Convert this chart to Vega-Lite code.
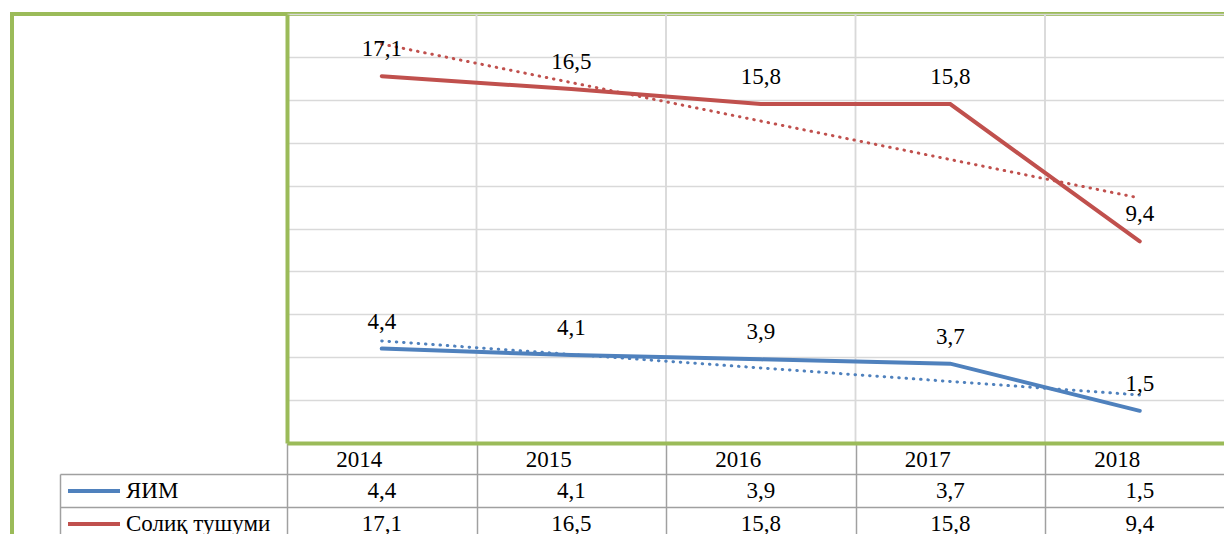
{
  "$schema": "https://vega.github.io/schema/vega-lite/v6.json",
  "width": 1212,
  "height": 520,
  "autosize": {"type": "none"},
  "padding": {"left": 12, "top": 14, "right": 0, "bottom": 0},
  "background": "white",
  "config": {
    "locale": {"number": {"decimal": ",", "thousands": " ", "grouping": [3], "currency": ["", ""]}},
    "view": {"stroke": "#9BBB59", "strokeWidth": 4, "strokeDash": [1212, 1732, 520]},
    "font": "Liberation Serif"
  },
  "datasets": {
    "main": [
      {"year": "2014", "series": "ЯИМ", "value": 4.4},
      {"year": "2015", "series": "ЯИМ", "value": 4.1},
      {"year": "2016", "series": "ЯИМ", "value": 3.9},
      {"year": "2017", "series": "ЯИМ", "value": 3.7},
      {"year": "2018", "series": "ЯИМ", "value": 1.5},
      {"year": "2014", "series": "Солиқ тушуми", "value": 17.1},
      {"year": "2015", "series": "Солиқ тушуми", "value": 16.5},
      {"year": "2016", "series": "Солиқ тушуми", "value": 15.8},
      {"year": "2017", "series": "Солиқ тушуми", "value": 15.8},
      {"year": "2018", "series": "Солиқ тушуми", "value": 9.4}
    ],
    "trend": [
      {"year": "2014", "series": "ЯИМ", "trend": 4.76},
      {"year": "2018", "series": "ЯИМ", "trend": 2.24},
      {"year": "2014", "series": "Солиқ тушуми", "trend": 18.6},
      {"year": "2018", "series": "Солиқ тушуми", "trend": 11.42}
    ]
  },
  "resolve": {"scale": {"y": "independent"}},
  "layer": [
    {
      "layer": [
        {
          "data": {"name": "main"},
          "transform": [{"filter": "datum.year != '2014'"}],
          "mark": {"type": "rule", "color": "#D9D9D9", "strokeWidth": 1.5},
          "encoding": {
            "x": {"field": "year", "type": "ordinal", "title": null, "bandPosition": 0},
            "y": {"datum": 0, "type": "quantitative"},
            "y2": {"datum": 20}
          }
        },
        {
          "data": {"name": "trend"},
          "mark": {"type": "line", "strokeDash": [0.5, 6.8], "strokeCap": "round", "strokeWidth": 3},
          "encoding": {
            "x": {"field": "year", "type": "ordinal", "title": null, "bandPosition": 0.5},
            "y": {"field": "trend", "type": "quantitative", "title": null},
            "color": {"field": "series", "type": "nominal", "title": null},
            "detail": {"field": "series"}
          }
        },
        {
          "data": {"name": "main"},
          "mark": {"type": "line", "strokeWidth": 4, "strokeCap": "round", "strokeJoin": "miter"},
          "encoding": {
            "x": {
              "field": "year", "type": "ordinal", "title": null, "bandPosition": 0.5,
              "scale": {"type": "band", "domain": ["2014", "2015", "2016", "2017", "2018"], "range": [275, 1222.5], "paddingInner": 0, "paddingOuter": 0},
              "axis": {
                "orient": "bottom", "offset": -91, "title": null,
                "domainColor": "#9BBB59", "domainWidth": 4,
                "tickBand": "extent", "tickSize": 97, "tickColor": "#A0A0A0", "tickWidth": 1.5,
                "labelFont": "Liberation Serif", "labelFontSize": 23, "labelColor": "black",
                "labelBaseline": "middle", "labelPadding": -81, "labelAngle": 0,
                "grid": false, "zindex": 1
              }
            },
            "y": {
              "field": "value", "type": "quantitative", "title": null,
              "scale": {"domain": [0, 20], "range": [429, 0], "nice": false, "zero": true},
              "axis": {
                "orient": "left", "offset": -275, "title": null,
                "labels": false, "ticks": false,
                "domainColor": "#9BBB59", "domainWidth": 4,
                "values": [0, 2, 4, 6, 8, 10, 12, 14, 16, 18, 20],
                "grid": true, "gridColor": "#D9D9D9", "gridWidth": 1.5
              }
            },
            "color": {
              "field": "series", "type": "nominal", "title": null,
              "scale": {"domain": ["ЯИМ", "Солиқ тушуми"], "range": ["#4F81BD", "#C0504D"]},
              "legend": {
                "orient": "none", "legendX": 54, "legendY": 460.5, "title": null,
                "direction": "vertical", "symbolType": "stroke", "symbolSize": 2704,
                "symbolStrokeWidth": 4, "labelFont": "Liberation Serif", "labelFontSize": 23,
                "labelColor": "black", "labelOffset": 4, "rowPadding": 0, "padding": 0,
                "clipHeight": 33, "symbolDash": []
              }
            }
          }
        },
        {
          "data": {"name": "main"},
          "mark": {"type": "text", "font": "Liberation Serif", "fontSize": 23, "color": "black", "baseline": "middle", "dy": -27},
          "encoding": {
            "x": {"field": "year", "type": "ordinal", "title": null, "bandPosition": 0.5},
            "y": {"field": "value", "type": "quantitative", "title": null},
            "text": {"field": "value", "type": "quantitative", "format": ".1f"}
          }
        }
      ]
    },
    {
      "data": {"name": "main"},
      "mark": {"type": "text", "font": "Liberation Serif", "fontSize": 23, "color": "black", "baseline": "middle"},
      "encoding": {
        "x": {"field": "year", "type": "ordinal", "title": null, "bandPosition": 0.5},
        "y": {
          "field": "series", "type": "nominal", "title": null,
          "scale": {"type": "band", "domain": ["ЯИМ", "Солиқ тушуми"], "range": [460, 526], "paddingInner": 0, "paddingOuter": 0},
          "axis": {
            "orient": "left", "offset": -48, "title": null, "labels": false,
            "domainColor": "#A0A0A0", "domainWidth": 1.5,
            "tickBand": "extent", "tickSize": -227, "tickColor": "#A0A0A0", "tickWidth": 1.5,
            "grid": true, "gridColor": "#A0A0A0", "gridWidth": 1.5
          }
        },
        "text": {"field": "value", "type": "quantitative", "format": ".1f"}
      }
    }
  ]
}
